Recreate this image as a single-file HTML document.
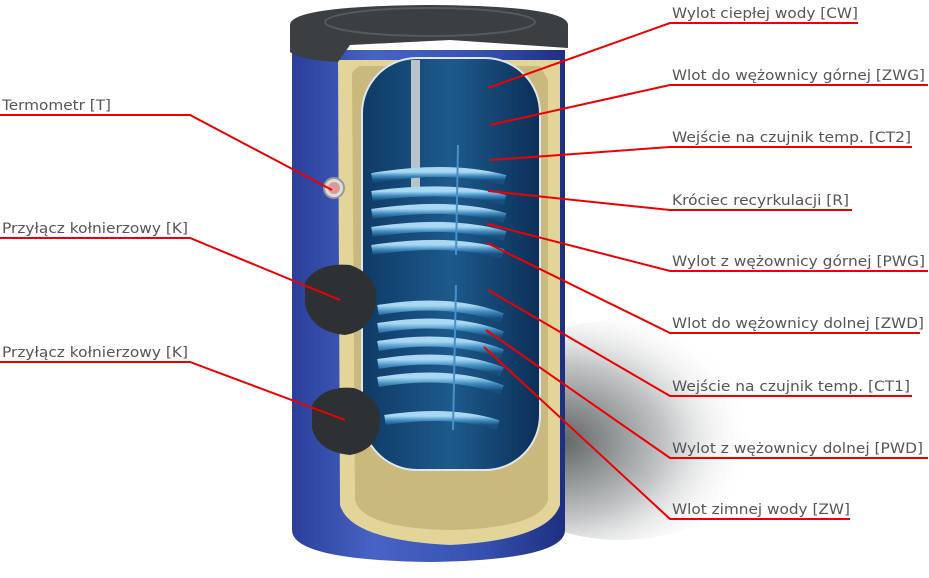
<!DOCTYPE html>
<html><head><meta charset="utf-8"><style>
html,body{margin:0;padding:0;background:#fff;}
svg{display:block}
text{font-family:"DejaVu Sans","Liberation Sans",sans-serif;font-size:14px;fill:#555;}
</style></head><body>
<svg width="929" height="578" viewBox="0 0 929 578" xmlns="http://www.w3.org/2000/svg">
<defs>
<radialGradient id="sh" cx="0.3" cy="0.55" r="0.65"><stop offset="0" stop-color="#5f6466"/><stop offset="0.55" stop-color="#c4c6c7"/><stop offset="1" stop-color="#fff" stop-opacity="0"/></radialGradient>
<linearGradient id="body" x1="0" x2="1"><stop offset="0" stop-color="#2a3f9a"/><stop offset="0.3" stop-color="#4763c4"/><stop offset="0.7" stop-color="#3550b0"/><stop offset="1" stop-color="#1e2f80"/></linearGradient>
<linearGradient id="inner" x1="0" x2="1"><stop offset="0" stop-color="#0f3a66"/><stop offset="0.5" stop-color="#1d5a8c"/><stop offset="1" stop-color="#0c2f58"/></linearGradient>
<linearGradient id="coil" x1="0" y1="0" x2="0" y2="1"><stop offset="0" stop-color="#a9d8f2"/><stop offset="0.5" stop-color="#3f8cc0"/><stop offset="1" stop-color="#17507f"/></linearGradient>
</defs>
<ellipse cx="620" cy="430" rx="150" ry="110" fill="url(#sh)"/>
<path d="M292 50 L292 530 Q292 560 430 562 Q565 560 565 530 L565 50 Z" fill="url(#body)"/>
<path d="M338 60 L340 505 Q350 540 450 545 Q548 540 560 505 L560 60 Z" fill="#e3d49a"/>
<path d="M352 75 Q352 70 360 66 L540 66 L548 80 L548 500 Q540 528 450 530 Q362 528 355 500 Z" fill="#c9b97c"/>
<rect x="362" y="58" width="178" height="412" rx="55" ry="55" fill="url(#inner)" stroke="#dfe6ee" stroke-width="2"/>
<path d="M290 25 Q290 6 430 5 Q568 6 568 25 L568 48 L450 40 L350 45 L338 62 Q300 60 290 52 Z" fill="#3b3f42"/>
<ellipse cx="430" cy="22" rx="105" ry="14" fill="none" stroke="#54595c" stroke-width="2"/>
<rect x="411" y="60" width="9" height="130" fill="#b9c3cc"/>
<g fill="none" stroke="url(#coil)" stroke-width="10">
<path d="M372 178 Q450 165 505 180"/><path d="M372 196 Q450 185 505 200"/><path d="M372 214 Q450 202 505 218"/><path d="M372 232 Q450 220 505 236"/><path d="M372 250 Q450 238 503 254"/>
<path d="M378 310 Q450 298 502 318"/><path d="M378 328 Q450 316 502 336"/><path d="M378 346 Q450 334 502 354"/><path d="M378 364 Q450 352 502 372"/><path d="M378 382 Q450 370 502 390"/><path d="M385 420 Q450 410 498 425"/>
</g>
<line x1="458" y1="145" x2="456" y2="255" stroke="#4a90c4" stroke-width="2"/>
<line x1="456" y1="285" x2="453" y2="430" stroke="#4a90c4" stroke-width="2"/>
<circle cx="334" cy="188" r="10" fill="#ddd" stroke="#999" stroke-width="2"/><circle cx="334" cy="188" r="6" fill="#d99"/>
<path d="M305 282 Q318 262 350 265 Q378 275 376 300 Q374 330 345 335 Q312 332 305 305 Z" fill="#2e3133"/>
<path d="M312 405 Q324 385 354 388 Q382 398 380 422 Q378 450 350 455 Q318 452 312 428 Z" fill="#2e3133"/>
<g stroke="#e00" stroke-width="2" fill="none">
<polyline points="0,115 190,115 332,190"/>
<polyline points="0,238 190,238 340,300"/>
<polyline points="0,362 190,362 345,420"/>
<polyline points="858,23 670,23 488,88"/>
<polyline points="928,85 670,85 490,125"/>
<polyline points="912,147 670,147 490,160"/>
<polyline points="852,210 670,210 488,191"/>
<polyline points="928,271 670,271 487,224"/>
<polyline points="920,333 670,333 487,243"/>
<polyline points="912,396 670,396 488,290"/>
<polyline points="928,458 670,458 486,330"/>
<polyline points="850,519 670,519 484,347"/>
</g>
<g lengthAdjust="spacingAndGlyphs">
<text x="2" y="110" textLength="109" lengthAdjust="spacingAndGlyphs">Termometr [T]</text>
<text x="2" y="233" textLength="186" lengthAdjust="spacingAndGlyphs">Przyłącz kołnierzowy [K]</text>
<text x="2" y="357" textLength="186" lengthAdjust="spacingAndGlyphs">Przyłącz kołnierzowy [K]</text>
<text x="672" y="18" textLength="186" lengthAdjust="spacingAndGlyphs">Wylot ciepłej wody [CW]</text>
<text x="672" y="80" textLength="253" lengthAdjust="spacingAndGlyphs">Wlot do wężownicy górnej [ZWG]</text>
<text x="672" y="142" textLength="239" lengthAdjust="spacingAndGlyphs">Wejście na czujnik temp. [CT2]</text>
<text x="672" y="205" textLength="177" lengthAdjust="spacingAndGlyphs">Króciec recyrkulacji [R]</text>
<text x="672" y="266" textLength="253" lengthAdjust="spacingAndGlyphs">Wylot z wężownicy górnej [PWG]</text>
<text x="672" y="328" textLength="252" lengthAdjust="spacingAndGlyphs">Wlot do wężownicy dolnej [ZWD]</text>
<text x="672" y="391" textLength="238" lengthAdjust="spacingAndGlyphs">Wejście na czujnik temp. [CT1]</text>
<text x="672" y="453" textLength="251" lengthAdjust="spacingAndGlyphs">Wylot z wężownicy dolnej [PWD]</text>
<text x="672" y="514" textLength="178" lengthAdjust="spacingAndGlyphs">Wlot zimnej wody [ZW]</text>
</g>
</svg>
</body></html>
